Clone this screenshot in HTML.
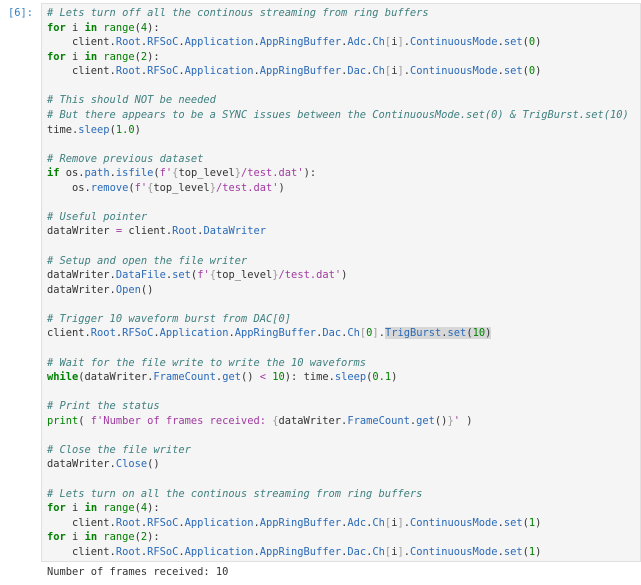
<!DOCTYPE html>
<html><head><meta charset="utf-8"><style>
html,body{margin:0;padding:0;background:#fff;width:641px;height:585px;overflow:hidden}
.p{position:absolute;left:8px;top:6px;font:10.4px/14.57px "DejaVu Sans Mono",monospace;color:#307fc1}
.cell{position:absolute;left:41px;top:3px;width:600px;height:559px;background:#f5f5f5;border:1px solid #e0e0e0;box-sizing:border-box}
pre{margin:0;position:absolute;left:47px;top:6px;font:10.4px/14.57px "DejaVu Sans Mono",monospace;color:#333}
.out{position:absolute;left:47px;top:565px;font:10.4px/14.5px "DejaVu Sans Mono",monospace;color:#333;margin:0}
.c{color:#408080;font-style:italic}.k{color:#008000;font-weight:bold}.b{color:#008000}.n{color:#008000}
.a{color:#2a6ab8}.g{color:#999}.s{color:#a03aa0}.o{color:#a03aa0}.h{background:#d7d7d7}
</style></head><body>
<div class="p">[6]:</div>
<div class="cell"></div>
<pre><span class="c"># Lets turn off all the continous streaming from ring buffers</span>
<span class="k">for</span> i <span class="k">in</span> <span class="b">range</span>(<span class="n">4</span>):
    client.<span class="a">Root</span>.<span class="a">RFSoC</span>.<span class="a">Application</span>.<span class="a">AppRingBuffer</span>.<span class="a">Adc</span>.<span class="a">Ch</span><span class="g">[</span>i<span class="g">]</span>.<span class="a">ContinuousMode</span>.<span class="a">set</span>(<span class="n">0</span>)
<span class="k">for</span> i <span class="k">in</span> <span class="b">range</span>(<span class="n">2</span>):
    client.<span class="a">Root</span>.<span class="a">RFSoC</span>.<span class="a">Application</span>.<span class="a">AppRingBuffer</span>.<span class="a">Dac</span>.<span class="a">Ch</span><span class="g">[</span>i<span class="g">]</span>.<span class="a">ContinuousMode</span>.<span class="a">set</span>(<span class="n">0</span>)

<span class="c"># This should NOT be needed</span>
<span class="c"># But there appears to be a SYNC issues between the ContinuousMode.set(0) &amp; TrigBurst.set(10)</span>
time.<span class="a">sleep</span>(<span class="n">1.0</span>)

<span class="c"># Remove previous dataset</span>
<span class="k">if</span> os.<span class="a">path</span>.<span class="a">isfile</span>(<span class="s">f'</span><span class="g">{</span>top_level<span class="g">}</span><span class="s">/test.dat'</span>):
    os.<span class="a">remove</span>(<span class="s">f'</span><span class="g">{</span>top_level<span class="g">}</span><span class="s">/test.dat'</span>)

<span class="c"># Useful pointer</span>
dataWriter <span class="o">=</span> client.<span class="a">Root</span>.<span class="a">DataWriter</span>

<span class="c"># Setup and open the file writer</span>
dataWriter.<span class="a">DataFile</span>.<span class="a">set</span>(<span class="s">f'</span><span class="g">{</span>top_level<span class="g">}</span><span class="s">/test.dat'</span>)
dataWriter.<span class="a">Open</span>()

<span class="c"># Trigger 10 waveform burst from DAC[0]</span>
client.<span class="a">Root</span>.<span class="a">RFSoC</span>.<span class="a">Application</span>.<span class="a">AppRingBuffer</span>.<span class="a">Dac</span>.<span class="a">Ch</span><span class="g">[</span><span class="n">0</span><span class="g">]</span>.<span class="h"><span class="a">TrigBurst</span>.<span class="a">set</span>(<span class="n">10</span>)</span>

<span class="c"># Wait for the file write to write the 10 waveforms</span>
<span class="k">while</span>(dataWriter.<span class="a">FrameCount</span>.<span class="a">get</span>() <span class="o">&lt;</span> <span class="n">10</span>): time.<span class="a">sleep</span>(<span class="n">0.1</span>)

<span class="c"># Print the status</span>
<span class="b">print</span>( <span class="s">f'Number of frames received: </span><span class="g">{</span>dataWriter.<span class="a">FrameCount</span>.<span class="a">get</span>()<span class="g">}</span><span class="s">'</span> )

<span class="c"># Close the file writer</span>
dataWriter.<span class="a">Close</span>()

<span class="c"># Lets turn on all the continous streaming from ring buffers</span>
<span class="k">for</span> i <span class="k">in</span> <span class="b">range</span>(<span class="n">4</span>):
    client.<span class="a">Root</span>.<span class="a">RFSoC</span>.<span class="a">Application</span>.<span class="a">AppRingBuffer</span>.<span class="a">Adc</span>.<span class="a">Ch</span><span class="g">[</span>i<span class="g">]</span>.<span class="a">ContinuousMode</span>.<span class="a">set</span>(<span class="n">1</span>)
<span class="k">for</span> i <span class="k">in</span> <span class="b">range</span>(<span class="n">2</span>):
    client.<span class="a">Root</span>.<span class="a">RFSoC</span>.<span class="a">Application</span>.<span class="a">AppRingBuffer</span>.<span class="a">Dac</span>.<span class="a">Ch</span><span class="g">[</span>i<span class="g">]</span>.<span class="a">ContinuousMode</span>.<span class="a">set</span>(<span class="n">1</span>)</pre>
<pre class="out">Number of frames received: 10</pre>
</body></html>
